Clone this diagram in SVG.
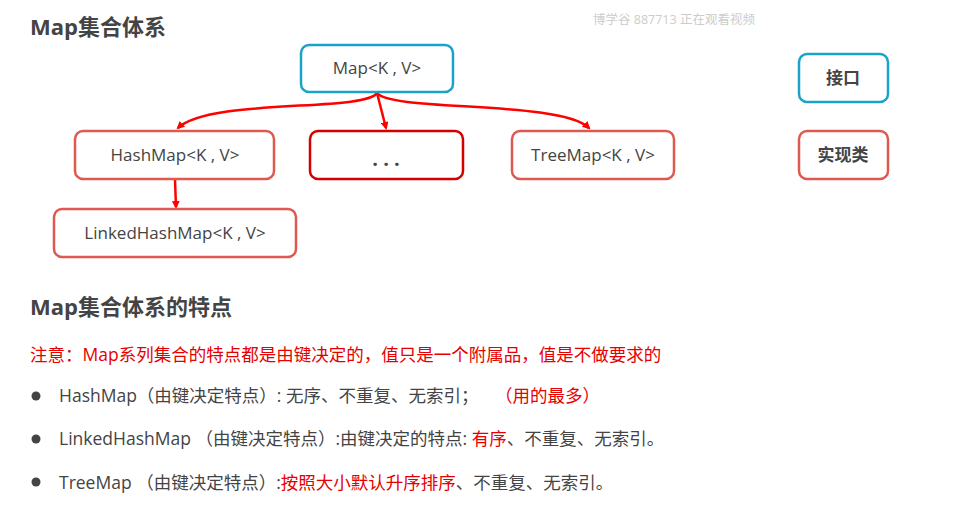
<svg xmlns="http://www.w3.org/2000/svg" width="968" height="515" viewBox="0 0 968 515">
<style>
text{font-family:"Open Sans","Noto Sans CJK SC",sans-serif;fill:#444}
.h{font-size:22px;font-weight:bold}
.n{font-size:17px}
.b{font-size:17.5px}
.box{fill:#fff;stroke-width:2.5}
.blue{stroke:#1aa3c8}
.red{stroke:#de5a50}
.dred{stroke:#d40000}
.c{text-anchor:middle}
.r{fill:#e60000}
.con{fill:none;stroke:#f00;stroke-width:2.5;marker-end:url(#ah)}
</style>
<defs>
<marker id="ah" markerWidth="8" markerHeight="8" refX="6" refY="4" orient="auto" markerUnits="userSpaceOnUse">
<path d="M0,0 L8,4 L0,8 Z" fill="#f00"/>
</marker>
</defs>
<rect width="968" height="515" fill="#fff"/>
<text x="30" y="35" class="h">Map集合体系</text>
<text x="593" y="24" style="font-size:12.5px;fill:#ccc">博学谷 887713 正在观看视频</text>
<g id="connectors">
<path class="con" d="M377,93 C365,112 210,98 178,128"/>
<path class="con" d="M377,93 L386,128"/>
<path class="con" d="M377,93 C392,112 560,100 589,128"/>
<path class="con" d="M175,180 L176,207"/>
</g>
<g id="map"><rect class="box blue" x="301" y="45" width="152" height="47" rx="8"/><text x="377" y="74" class="n c">Map&lt;K , V&gt;</text></g>
<g id="hashmap"><rect class="box red" x="75" y="131" width="199" height="48" rx="8"/><text x="175" y="161" class="n c">HashMap&lt;K , V&gt;</text></g>
<g id="dots"><rect class="box dred" x="310" y="131" width="153" height="48" rx="8"/><text x="386" y="166" class="c" style="font-size:20px;font-weight:bold">. . .</text></g>
<g id="treemap"><rect class="box red" x="512" y="131" width="162" height="48" rx="8"/><text x="593" y="161" class="n c">TreeMap&lt;K , V&gt;</text></g>
<g id="linked"><rect class="box red" x="54" y="209" width="242" height="48" rx="8"/><text x="175" y="239" class="n c">LinkedHashMap&lt;K , V&gt;</text></g>
<g id="iface"><rect class="box blue" x="799" y="54" width="89" height="48" rx="8"/><text x="843" y="84" class="n c" style="font-weight:bold">接口</text></g>
<g id="impl"><rect class="box red" x="799" y="131" width="89" height="48" rx="8"/><text x="843" y="161" class="n c" style="font-weight:bold">实现类</text></g>
<text x="30" y="315" class="h">Map集合体系的特点</text>
<text x="30" y="361" class="b r">注意：Map系列集合的特点都是由键决定的，值只是一个附属品，值是不做要求的</text>
<circle cx="36" cy="396" r="4.5" fill="#444"/>
<circle cx="36" cy="439" r="4.5" fill="#444"/>
<circle cx="36" cy="482" r="4.5" fill="#444"/>
<text x="59" y="402" class="b">HashMap（由键决定特点）: 无序、不重复、无索引；</text>
<text x="495" y="402" class="b r">（用的最多）</text>
<text x="59" y="445" class="b">LinkedHashMap （由键决定特点）:由键决定的特点: <tspan style="fill:#e60000">有序</tspan>、不重复、无索引。</text>
<text x="59" y="489" class="b">TreeMap （由键决定特点）:<tspan style="fill:#e60000">按照大小默认升序排序</tspan>、不重复、无索引。</text>
</svg>
